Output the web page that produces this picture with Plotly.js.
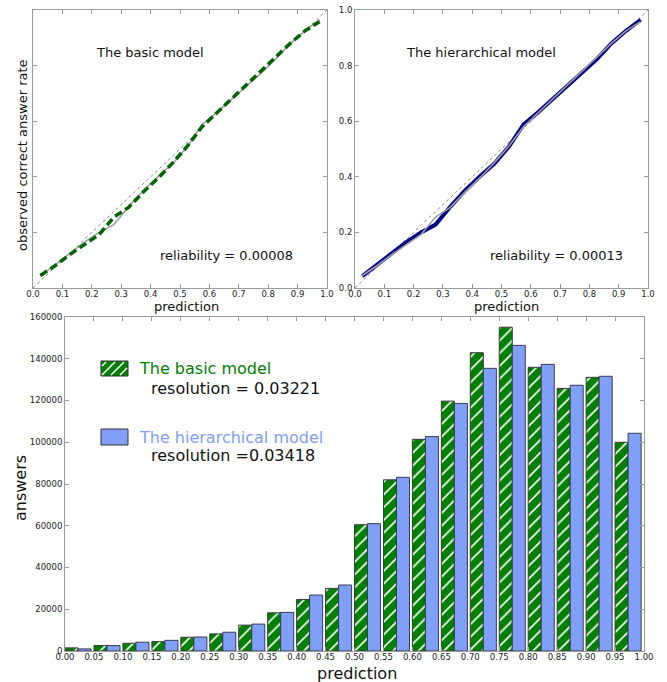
<!DOCTYPE html>
<html>
<head>
<meta charset="utf-8">
<script src="https://cdn.plot.ly/plotly-3.0.1.min.js"></script>
<style>html,body{margin:0;padding:0;background:#fff;}#chart{width:667px;height:682px;}</style>
</head>
<body>
<div id="chart"></div>
<script>
// ---- data ----
const binStart = [0.00,0.05,0.10,0.15,0.20,0.25,0.30,0.35,0.40,0.45,0.50,0.55,0.60,0.65,0.70,0.75,0.80,0.85,0.90,0.95];
const binCenter = [0.025,0.075,0.125,0.175,0.225,0.275,0.325,0.375,0.425,0.475,0.525,0.575,0.625,0.675,0.725,0.775,0.825,0.875,0.925,0.975];
const basicRate = [0.045,0.080,0.120,0.155,0.192,0.255,0.290,0.345,0.395,0.450,0.510,0.580,0.630,0.680,0.730,0.783,0.833,0.880,0.925,0.958];
const hierRate  = [0.043,0.083,0.125,0.165,0.200,0.228,0.292,0.350,0.400,0.447,0.508,0.588,0.632,0.680,0.725,0.772,0.823,0.880,0.925,0.965];
const basicCount = [1500,2600,3700,4500,6600,8200,12400,18300,24700,30000,60500,82000,101400,119700,142900,155100,135900,125800,131100,100000];
const hierCount  = [1000,2600,4200,5100,6700,9000,12900,18500,26800,31600,61000,83200,102700,118600,135400,146400,137300,127300,131600,104300];
const labels = {
  basic: 'The basic model',
  hier: 'The hierarchical model',
  relBasic: 'reliability = 0.00008',
  relHier: 'reliability = 0.00013',
  resBasic: 'resolution = 0.03221',
  resHier: 'resolution =0.03418',
  yTop: 'observed correct answer rate',
  xLabel: 'prediction',
  yBottom: 'answers'
};

// ---- helpers (pixel -> paper) ----
const W = 667, H = 682;
const px = x => x / W;
const py = y => 1 - y / H;
const FONT = 'DejaVu Sans';
const GREEN = '#008000';
const BLUE = '#809ff8';
const AXC = '#9a9a9a';

function axisBase(extra) {
  return Object.assign({
    showgrid: false, zeroline: false, showline: true, mirror: 'ticks',
    linecolor: AXC, linewidth: 1, ticks: 'inside', ticklen: 4, tickcolor: AXC,
    tickfont: {family: FONT, size: 8.5, color: '#222'}, fixedrange: true
  }, extra);
}

const traces = [
  // top-left: basic model
  {x: binCenter, y: hierRate, xaxis: 'x', yaxis: 'y', mode: 'lines', line: {color: '#a0a0a0', width: 1.6}, showlegend: false},
  {x: binCenter, y: basicRate, xaxis: 'x', yaxis: 'y', mode: 'lines', line: {color: '#006400', width: 3.5, dash: '8px,4px'}, showlegend: false},
  // top-right: hierarchical model
  {x: binCenter, y: hierRate, xaxis: 'x2', yaxis: 'y2', mode: 'lines', line: {color: '#00008b', width: 4}, showlegend: false},
  {x: binCenter, y: basicRate, xaxis: 'x2', yaxis: 'y2', mode: 'lines', line: {color: '#a0a0a0', width: 1.6}, showlegend: false},
  // bottom histogram
  {type: 'bar', x: binStart, y: basicCount, xaxis: 'x3', yaxis: 'y3', offset: 0, width: 0.0225,
   marker: {color: GREEN, line: {color: '#3a3a3a', width: 1},
            pattern: {shape: '/', fgcolor: '#ffffff', bgcolor: GREEN, size: 9, solidity: 0.18, fillmode: 'replace'}},
   showlegend: false},
  {type: 'bar', x: binStart, y: hierCount, xaxis: 'x3', yaxis: 'y3', offset: 0.0225, width: 0.0225,
   marker: {color: BLUE, line: {color: '#3a3a55', width: 1}}, showlegend: false}
];

// reference diagonals and legend patches
const shapes = [
  {type: 'line', xref: 'x', yref: 'y', x0: 0, y0: 0, x1: 1, y1: 1, layer: 'below', line: {color: '#888', width: 1, dash: 'dot'}},
  {type: 'line', xref: 'x2', yref: 'y2', x0: 0, y0: 0, x1: 1, y1: 1, layer: 'below', line: {color: '#888', width: 1, dash: 'dot'}},
];
function patch(x0, y0, x1, y1, fill, hatch) {
  shapes.push({type: 'rect', xref: 'paper', yref: 'paper', x0: px(x0), x1: px(x1), y0: py(y1), y1: py(y0),
               fillcolor: fill, line: {color: '#333', width: 1}});
  if (hatch) {
    for (let c = x0 + y0 + 6; c < x1 + y1 - 2; c += 9) {
      const xa = Math.max(x0 + 1, c - (y1 - 1));
      const xb = Math.min(x1 - 1, c - (y0 + 1));
      if (xb <= xa) continue;
      shapes.push({type: 'line', xref: 'paper', yref: 'paper', x0: px(xa), y0: py(c - xa), x1: px(xb), y1: py(c - xb),
                   line: {color: '#fff', width: 1.6}});
    }
  }
}
patch(101, 361, 128, 376, GREEN, true);
patch(101, 429, 128, 445, BLUE, false);

function ann(text, x, y, size, opts) {
  return Object.assign({text: text, xref: 'paper', yref: 'paper', x: px(x), y: py(y), showarrow: false,
    xanchor: 'left', yanchor: 'middle', font: {family: FONT, size: size, color: '#111'}}, opts || {});
}
const annotations = [
  ann(labels.yTop, 22, 155, 13, {xanchor: 'center', textangle: -90}),
  ann(labels.xLabel, 186, 306, 13, {xanchor: 'center'}),
  ann(labels.xLabel, 507, 306, 13, {xanchor: 'center'}),
  ann(labels.basic, 94, 52, 13),
  ann(labels.relBasic, 158, 255, 13),
  ann(labels.hier, 404, 52, 13),
  ann(labels.relHier, 488, 255, 13),
  ann(labels.basic, 137, 368, 16, {font: {family: FONT, size: 16, color: GREEN}}),
  ann(labels.resBasic, 149, 388, 16),
  ann(labels.hier, 137, 437, 16, {font: {family: FONT, size: 16, color: BLUE}}),
  ann(labels.resHier, 149, 455, 16),
  ann(labels.yBottom, 20, 488, 16, {xanchor: 'center', textangle: -90}),
  ann(labels.xLabel, 357, 673, 16, {xanchor: 'center'})
];

const layout = {
  width: W, height: H, margin: {l: 0, r: 0, t: 0, b: 0},
  paper_bgcolor: '#fff', plot_bgcolor: '#fff', showlegend: false, bargap: 0,
  xaxis: axisBase({domain: [px(33), px(327)], anchor: 'y', range: [0, 1], dtick: 0.1, tick0: 0, tickformat: '.1f', ticklabelstandoff: -2}),
  yaxis: axisBase({domain: [py(288), py(10)], anchor: 'x', range: [0, 1], dtick: 0.2, tick0: 0, showticklabels: false}),
  xaxis2: axisBase({domain: [px(355), px(648)], anchor: 'y2', range: [0, 1], dtick: 0.1, tick0: 0, tickformat: '.1f', ticklabelstandoff: -2}),
  yaxis2: axisBase({domain: [py(288), py(10)], anchor: 'x2', range: [0, 1], dtick: 0.2, tick0: 0, tickformat: '.1f'}),
  xaxis3: axisBase({domain: [px(65), px(644)], anchor: 'y3', range: [0, 1], dtick: 0.05, tick0: 0, tickformat: '.2f', ticklabelstandoff: -2}),
  yaxis3: axisBase({domain: [py(651), py(317)], anchor: 'x3', range: [0, 160000], dtick: 20000, tick0: 0, tickformat: 'd'}),
  shapes: shapes,
  annotations: annotations
};

Plotly.newPlot('chart', traces, layout, {displayModeBar: false, staticPlot: true});
</script>
</body>
</html>
